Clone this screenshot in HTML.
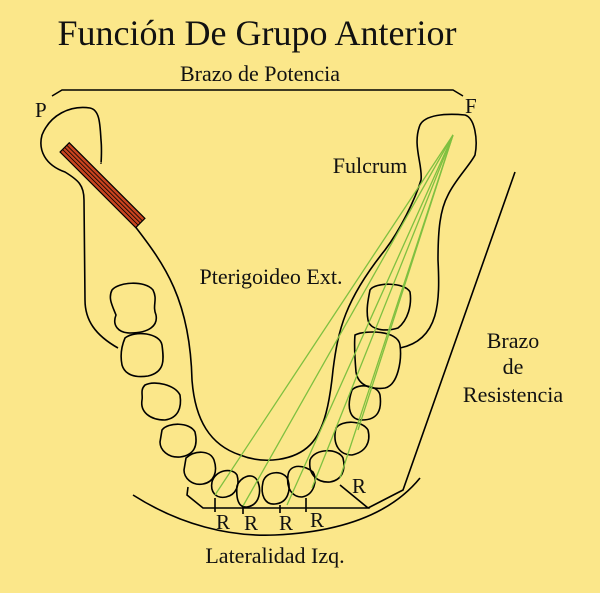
<!DOCTYPE html>
<html><head><meta charset="utf-8"><style>
html,body{margin:0;padding:0;background:#fbe78a;}
svg{display:block;}
text{font-family:"Liberation Serif",serif;fill:#111;}
</style></head><body>
<svg width="600" height="593" viewBox="0 0 600 593" xmlns="http://www.w3.org/2000/svg">
<rect width="600" height="593" fill="#fbe78a"/>
<text x="257" y="45" font-size="36" text-anchor="middle">Función De Grupo Anterior</text>
<text x="260" y="81" font-size="22" text-anchor="middle">Brazo de Potencia</text>
<path d="M52,96 L62,90 L453,90 L463,96" fill="none" stroke="#000" stroke-width="1.5"/>
<text x="35" y="117" font-size="21">P</text>
<text x="465" y="113" font-size="21">F</text>
<text x="370" y="173" font-size="22" text-anchor="middle">Fulcrum</text>
<text x="271" y="284" font-size="22" text-anchor="middle">Pterigoideo Ext.</text>
<text x="513" y="348" font-size="22" text-anchor="middle">Brazo</text>
<text x="513" y="374" font-size="22" text-anchor="middle">de</text>
<text x="513" y="402" font-size="22" text-anchor="middle">Resistencia</text>
<text x="275" y="563" font-size="22" text-anchor="middle">Lateralidad Izq.</text>
<g font-size="21"><text x="216" y="529">R</text><text x="244" y="530">R</text><text x="279" y="530">R</text><text x="310" y="527">R</text><text x="352" y="493">R</text></g>
<g fill="none" stroke="#000" stroke-width="1.6">
<path d="M118,348 C95,335 85,320 85,300 L84,200 C84,185 78,180 65,172 C45,165 38,150 42,135 C50,115 70,105 90,108 C100,110 100,125 101,140 C102,150 101,165 101,163"/>
<path d="M134,225 C165,265 190,300 192,380 C195,420 210,445 240,455 C265,465 295,460 310,445 C325,430 330,400 333,370 C338,330 345,300 385,250 C400,230 415,200 421,180 C423,165 412,145 420,125 C425,115 445,113 465,115 C475,118 478,140 475,155 C470,165 455,180 448,195 C440,210 438,230 438,260 C440,300 440,340 400,348"/>
<path d="M112,290 C118,282 145,280 153,290 C158,300 152,305 156,315 C158,325 150,333 130,333 C118,333 112,325 116,315 C112,305 108,298 112,290Z"/>
<path d="M125,338 C135,330 160,333 162,345 C164,360 165,372 148,376 C135,378 125,375 122,365 C120,355 122,345 125,338Z"/>
<path d="M145,385 C155,380 175,385 180,395 C182,408 178,418 165,420 C150,420 140,412 142,400 C143,395 140,390 145,385Z"/>
<path d="M162,430 C168,422 190,422 195,432 C198,445 195,455 180,457 C168,458 160,450 160,442Z"/>
<path d="M186,458 C195,450 210,450 214,460 C218,472 214,482 203,484 C192,486 184,478 184,470Z"/>
<path d="M212,482 C215,470 232,467 237,475 C240,485 236,495 226,497 C216,499 210,492 212,482Z"/>
<path d="M237,486 C240,477 252,472 257,480 C262,490 260,505 247,507 C238,508 236,498 237,486Z"/>
<path d="M263,482 C266,470 285,470 288,480 C291,490 288,503 275,504 C265,505 260,495 263,482Z"/>
<path d="M288,475 C290,463 305,465 313,472 C318,480 314,495 302,497 C292,497 286,488 288,475Z"/>
<path d="M310,460 C315,448 338,448 343,458 C346,470 342,480 330,482 C318,483 308,475 310,460Z"/>
<path d="M336,428 C342,420 362,420 368,430 C371,442 366,452 352,455 C340,455 332,445 336,428Z"/>
<path d="M352,390 C358,383 378,385 380,395 C382,410 378,420 362,420 C350,420 346,408 352,390Z"/>
<path d="M355,335 C365,330 398,330 400,345 C402,360 398,385 385,388 C370,390 358,385 356,372 C355,360 354,345 355,335Z"/>
<path d="M370,290 C375,282 405,282 410,292 C412,305 408,320 398,328 C385,332 370,330 368,320 C366,310 368,300 370,290Z"/>
<path d="M188,487 L187,495 L203,508 L368,508 L340,485"/>
<path d="M215,498 L215,512 M243,505 L243,514 M280,505 L280,513 M306,498 L306,512"/>
<path d="M133,495 C180,525 230,537 275,535 C340,532 390,515 420,478"/>
<path d="M515,172 L403,490 L368,508"/>
</g>
<g stroke="#7fc040" stroke-width="1.3">
<line x1="453" y1="135" x2="215" y2="495"/>
<line x1="453" y1="135" x2="243" y2="506"/>
<line x1="453" y1="135" x2="287" y2="505"/>
<line x1="453" y1="135" x2="312" y2="488"/>
<line x1="453" y1="135" x2="340" y2="478"/>
<line x1="453" y1="135" x2="358" y2="430"/>
</g>
<g transform="translate(65,147) rotate(45)">
<rect x="0" y="-6" width="107" height="13" fill="#c8431e" stroke="#000" stroke-width="1.2"/>
<line x1="0" y1="-2.5" x2="107" y2="-2.5" stroke="#000" stroke-width="0.8"/>
<line x1="0" y1="0.5" x2="107" y2="0.5" stroke="#000" stroke-width="0.8"/>
<line x1="0" y1="3.5" x2="107" y2="3.5" stroke="#000" stroke-width="0.8"/>
</g>
</svg>
</body></html>
